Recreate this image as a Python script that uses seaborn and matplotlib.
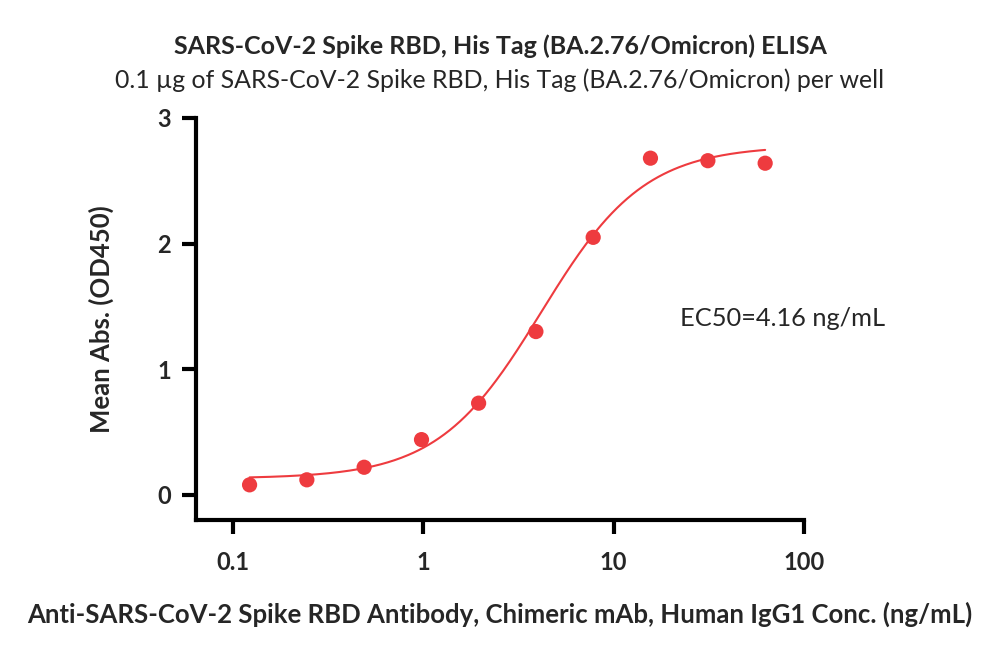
import numpy as np
import matplotlib
matplotlib.use("Agg")
import matplotlib.pyplot as plt
import seaborn as sns
import pandas as pd

conc = [0.122, 0.244, 0.488, 0.977, 1.95, 3.9, 7.8, 15.6, 31.25, 62.5]
od450 = [0.08, 0.12, 0.22, 0.44, 0.73, 1.30, 2.05, 2.68, 2.66, 2.64]

fit_bottom = 0.13
fit_top = 2.78
fit_ec50 = 4.16
fit_hill = 1.6

title = "SARS-CoV-2 Spike RBD, His Tag (BA.2.76/Omicron) ELISA"
subtitle = "0.1 µg of SARS-CoV-2 Spike RBD, His Tag (BA.2.76/Omicron) per well"
xlabel = "Anti-SARS-CoV-2 Spike RBD Antibody, Chimeric mAb, Human IgG1 Conc. (ng/mL)"
ylabel = "Mean Abs. (OD450)"
ec50_text = "EC50=4.16 ng/mL"
xticks = [0.1, 1, 10, 100]
xticklabels = ["0.1", "1", "10", "100"]
yticks = [0, 1, 2, 3]

sns.set_theme(style="ticks")
plt.rcParams['font.family'] = ['Lato', 'DejaVu Sans']

red = "#ee3b3f"
fig = plt.figure(figsize=(10, 6.58), dpi=100)
ax = fig.add_axes([0.196, 0.2097, 0.608, 0.611])

xs = np.logspace(np.log10(conc[0]), np.log10(conc[-1]), 300)
ys = fit_bottom + (fit_top - fit_bottom) / (1 + (fit_ec50 / xs) ** fit_hill)
fit_df = pd.DataFrame({"x": xs, "y": ys})
df = pd.DataFrame({"x": conc, "y": od450})

sns.lineplot(data=fit_df, x="x", y="y", ax=ax, color=red, lw=1.5, zorder=2)
sns.scatterplot(data=df, x="x", y="y", ax=ax, color=red, s=120, edgecolor="none", zorder=3)

ax.set_xscale("log")
ax.set_xlim(0.0638, 100)
ax.set_ylim(-0.2, 3)
ax.set_xticks(xticks)
ax.set_xticklabels(xticklabels)
ax.minorticks_off()
ax.set_yticks(yticks)
for s in ["top", "right"]:
    ax.spines[s].set_visible(False)
for s in ["left", "bottom"]:
    ax.spines[s].set_linewidth(3)
    ax.spines[s].set_color("black")
ax.tick_params(axis="both", width=3, length=10, color="black", labelsize=17, pad=8)
for lab in ax.get_xticklabels() + ax.get_yticklabels():
    lab.set_fontweight("bold")
ax.tick_params(axis="x", pad=12)
ax.set_xlabel(xlabel, fontsize=18.5, fontweight="bold", labelpad=20)
ax.set_ylabel(ylabel, fontsize=18.5, fontweight="bold", labelpad=31)
ax.text(0.964, 0.502, ec50_text, transform=ax.transAxes, fontsize=18.3, ha="center", va="center")

fig.text(0.5, 0.93, title, ha="center", va="center", fontsize=18, fontweight="bold")
fig.text(0.5, 0.878, subtitle, ha="center", va="center", fontsize=17.9)

fig.savefig("out.png", dpi=100)
